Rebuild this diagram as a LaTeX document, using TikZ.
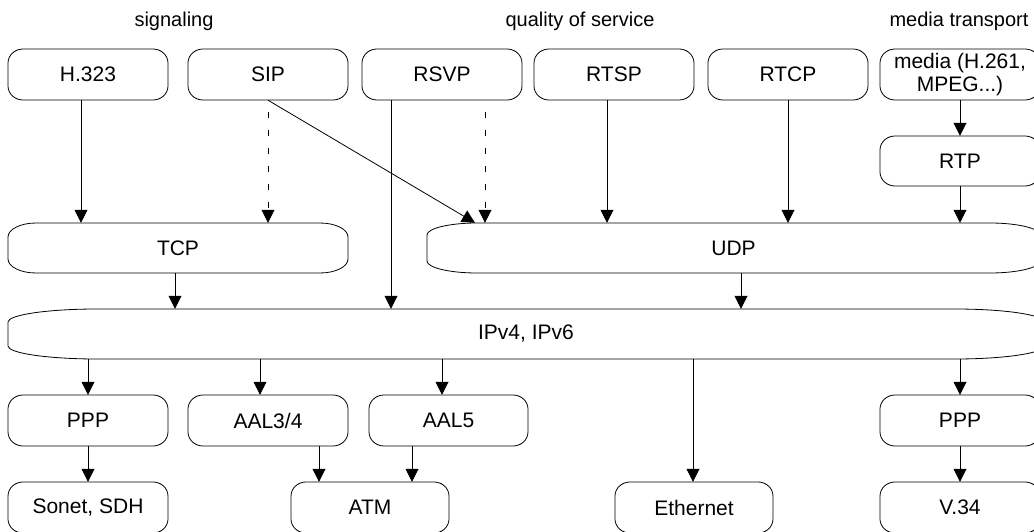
\documentclass[tikz,border=0pt]{standalone}
\usepackage{fontspec}
\setmainfont{Liberation Sans}
\usetikzlibrary{arrows.meta}

\tikzset{
  outline/.style={line width=0.8pt, draw=black},
  boxtext/.style={inner sep=0pt, font=\fontsize{21}{22.5}\selectfont, align=center},
  heading/.style={inner sep=0pt, anchor=base, font=\fontsize{20}{22}\selectfont},
  arr/.style={line width=0.8pt, -{Triangle[length=13pt,width=13pt]}},
  dotarr/.style={arr, dash pattern=on 6pt off 12pt, dash phase=6pt},
}

% Rounded box with elliptical corners: name, x1, y1, x2, y2, rx, ry, text
\newcommand\layerbox[8]{%
  \draw[outline] ({#2+#6},#3) -- ({#4-#6},#3)
     .. controls ({#4-0.448*#6},#3) and (#4,{#3+0.448*#7}) .. (#4,{#3+#7})
     -- (#4,{#5-#7})
     .. controls (#4,{#5-0.448*#7}) and ({#4-0.448*#6},#5) .. ({#4-#6},#5)
     -- ({#2+#6},#5)
     .. controls ({#2+0.448*#6},#5) and (#2,{#5-0.448*#7}) .. (#2,{#5-#7})
     -- (#2,{#3+#7})
     .. controls (#2,{#3+0.448*#7}) and ({#2+0.448*#6},#3) .. ({#2+#6},#3) -- cycle;
  \node[boxtext, minimum width={(#4-#2)*1pt}, minimum height={(#5-#3)*1pt}]
     (#1) at ({(#2+#4)/2},{(#3+#5)/2}) {#8};
}

\begin{document}
\begin{tikzpicture}[x=1pt, y=-1pt]
\useasboundingbox (0,0) rectangle (1034,532);
\clip (0,0) rectangle (1034,532);

% column headings
\node[heading] (sig) at (174,27) {signaling};
\node[heading] (qos) at (580,27) {quality of service};
\node[heading] (mt)  at (959,27) {media transport};

% application protocols
\layerbox{h323}{8}{49}{168}{100}{15}{14}{H.323}
\layerbox{sip}{188}{49}{348}{100}{15}{14}{SIP}
\layerbox{rsvp}{362}{49}{522}{100}{15}{14}{RSVP}
\layerbox{rtsp}{534}{49}{694}{100}{15}{14}{RTSP}
\layerbox{rtcp}{708}{49}{868}{100}{15}{14}{RTCP}
\layerbox{media}{880}{49}{1040}{100}{15}{14}{media (H.261,\\MPEG...)}
\layerbox{rtp}{880}{136}{1040}{186}{15}{14}{RTP}

% transport
\layerbox{tcp}{8}{223}{348}{273}{28}{14}{TCP}
\layerbox{udp}{427}{223}{1040}{273}{50}{12}{UDP}

% network
\layerbox{ip}{8}{309}{1044}{359}{89}{13}{IPv4, IPv6}

% link layer
\layerbox{pppa}{8}{395}{168}{446}{15}{14}{PPP}
\layerbox{aal34}{188}{395}{348}{446}{15}{14}{AAL3/4}
\layerbox{aal5}{369}{395}{528}{446}{15}{14}{AAL5}
\layerbox{pppb}{880}{395}{1040}{446}{15}{14}{PPP}

% physical
\layerbox{sonet}{8}{482}{168}{533}{15}{14}{Sonet, SDH}
\layerbox{atm}{291}{482}{449}{533}{15}{14}{ATM}
\layerbox{eth}{615}{482}{773}{533}{15}{14}{Ethernet}
\layerbox{v34}{880}{482}{1040}{533}{15}{14}{V.34}

% application -> transport / network
\draw[arr] (h323.south -| 81,0) -- (tcp.north -| 81,0);
\draw[dotarr] (sip.south -| 268,0) -- (tcp.north -| 268,0);
\draw[arr] (sip.south) -- (udp.north -| 475,0);
\draw[arr] (rsvp.south -| 391,0) -- (ip.north -| 391,0);
\draw[dotarr] (rsvp.south -| 485,0) -- (udp.north -| 485,0);
\draw[arr] (rtsp.south -| 607,0) -- (udp.north -| 607,0);
\draw[arr] (rtcp.south -| 788,0) -- (udp.north -| 788,0);
\draw[arr] (media.south -| 960,0) -- (rtp.north -| 960,0);
\draw[arr] (rtp.south -| 960,0) -- (udp.north -| 960,0);

% transport -> network
\draw[arr] (tcp.south -| 175,0) -- (ip.north -| 175,0);
\draw[arr] (udp.south -| 741,0) -- (ip.north -| 741,0);

% network -> link
\draw[arr] (ip.south -| 88,0) -- (pppa.north -| 88,0);
\draw[arr] (ip.south -| 260,0) -- (aal34.north -| 260,0);
\draw[arr] (ip.south -| 442,0) -- (aal5.north -| 442,0);
\draw[arr] (ip.south -| 693,0) -- (eth.north -| 693,0);
\draw[arr] (ip.south -| 960,0) -- (pppb.north -| 960,0);

% link -> physical
\draw[arr] (pppa.south -| 88,0) -- (sonet.north -| 88,0);
\draw[arr] (aal34.south -| 319,0) -- (atm.north -| 319,0);
\draw[arr] (aal5.south -| 412,0) -- (atm.north -| 412,0);
\draw[arr] (pppb.south -| 960,0) -- (v34.north -| 960,0);
\end{tikzpicture}
\end{document}
